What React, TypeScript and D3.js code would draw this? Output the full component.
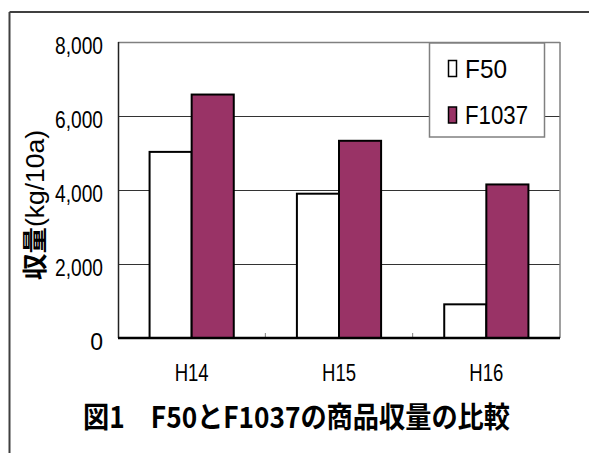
import React from "react";
import * as d3 from "d3";

const categories = ["H14", "H15", "H16"];
const seriesNames = ["F50", "F1037"];
const f50Values = [5030, 3900, 910];
const f1037Values = [6580, 5330, 4150];
const yTicks = [0, 2000, 4000, 6000, 8000];
const titleText = "図1　F50とF1037の商品収量の比較";
const yTitleCJK = "収量";
const yTitleLatin = "(kg/10a)";

const seriesColors = ["#ffffff", "#993366"];

const W = 589;
const H = 453;
const plot = { left: 118, right: 560, top: 42, bottom: 338 };
const latin = "'Liberation Sans', Arial, sans-serif";
const cjk = "'Noto Sans CJK JP', 'Liberation Sans', sans-serif";

export default function App() {
  const x = d3.scaleBand<string>().domain(categories).range([plot.left, plot.right]).paddingInner(0).paddingOuter(0);
  const y = d3.scaleLinear().domain([0, 8000]).range([plot.bottom, plot.top]);
  const band = x.bandwidth();
  const barW = band / 3.5;
  const inner = d3.scaleBand<string>().domain(seriesNames).range([(band - 2 * barW) / 2, (band + 2 * barW) / 2]);
  const series = [f50Values, f1037Values];
  const fmt = d3.format(",");

  return (
    <svg width={W} height={H} style={{ position: "absolute", left: 0, top: 0, background: "#fff" }}>
      <rect x={0} y={0} width={W} height={H} fill="#fff" />
      {/* outer frame */}
      <line x1={9.5} y1={12} x2={W} y2={12} stroke="#404040" strokeWidth={2} />
      <line x1={9.5} y1={12} x2={9.5} y2={H} stroke="#404040" strokeWidth={2} />

      {/* gridlines */}
      {yTicks.filter((t) => t > 0).map((t) => (
        <line key={t} x1={plot.left} x2={plot.right} y1={Math.round(y(t)) + 0.5} y2={Math.round(y(t)) + 0.5} stroke="#333" strokeWidth={1} />
      ))}
      {/* plot border */}
      <line x1={plot.left} x2={plot.right} y1={plot.top + 0.5} y2={plot.top + 0.5} stroke="#808080" strokeWidth={1.5} />
      <line x1={plot.right} x2={plot.right} y1={plot.top} y2={plot.bottom} stroke="#808080" strokeWidth={1.5} />

      {/* bars */}
      {categories.map((c, i) =>
        seriesNames.map((s, j) => {
          const v = series[j][i];
          const bx = (x(c) as number) + (inner(s) as number);
          return (
            <rect key={c + s} x={bx} y={y(v)} width={inner.bandwidth()} height={y(0) - y(v)} fill={seriesColors[j]} stroke="#000" strokeWidth={2} />
          );
        })
      )}

      {/* axes */}
      <line x1={plot.left + 0.5} x2={plot.left + 0.5} y1={plot.top} y2={plot.bottom} stroke="#222" strokeWidth={1.5} />
      {categories.slice(1).map((c) => (
        <line key={c} x1={x(c) as number} x2={x(c) as number} y1={plot.bottom} y2={plot.bottom - 5} stroke="#808080" strokeWidth={1} />
      ))}
      <line x1={plot.left} x2={plot.right} y1={plot.bottom} y2={plot.bottom} stroke="#000" strokeWidth={2.5} />

      {/* y tick labels */}
      {yTicks.map((t) => {
        const label = fmt(t);
        return (
          <text key={t} x={103} y={y(t) + 4} textAnchor="end" dominantBaseline="central" fontFamily={latin} fontSize={23} fill="#000"
            {...(label.length > 1 ? { textLength: 48, lengthAdjust: "spacingAndGlyphs" } : {})}>
            {label}
          </text>
        );
      })}

      {/* x labels */}
      {categories.map((c) => (
        <text key={c} x={(x(c) as number) + band / 2} y={381} textAnchor="middle" fontFamily={latin} fontSize={24} fill="#000" textLength={34} lengthAdjust="spacingAndGlyphs">
          {c}
        </text>
      ))}

      {/* y title */}
      <g transform="translate(44,205) rotate(-90)">
        <text x={0} y={0} textAnchor="middle" fontFamily={latin} fontSize={25} fill="#000" textLength={150} lengthAdjust="spacingAndGlyphs">
          <tspan fontFamily={cjk} fontWeight="bold">{yTitleCJK}</tspan>
          <tspan>{yTitleLatin}</tspan>
        </text>
      </g>

      {/* legend */}
      <rect x={429.5} y={43} width={115} height={94} fill="#fff" stroke="#808080" strokeWidth={1.5} />
      {seriesNames.map((s, j) => {
        const cy = 68.5 + j * 46.5;
        return (
          <g key={s}>
            <rect x={448.5} y={cy - 8} width={8} height={16} fill={seriesColors[j]} stroke="#000" strokeWidth={1.5} />
            <text x={465} y={cy + 9} fontFamily={latin} fontSize={25} fill="#000" textLength={s.length === 3 ? 42 : 63} lengthAdjust="spacingAndGlyphs">
              {s}
            </text>
          </g>
        );
      })}

      {/* title */}
      <text x={83} y={428} fontFamily={cjk} fontWeight="bold" fontSize={29} fill="#000" textLength={427} lengthAdjust="spacingAndGlyphs">
        {titleText}
      </text>
    </svg>
  );
}
